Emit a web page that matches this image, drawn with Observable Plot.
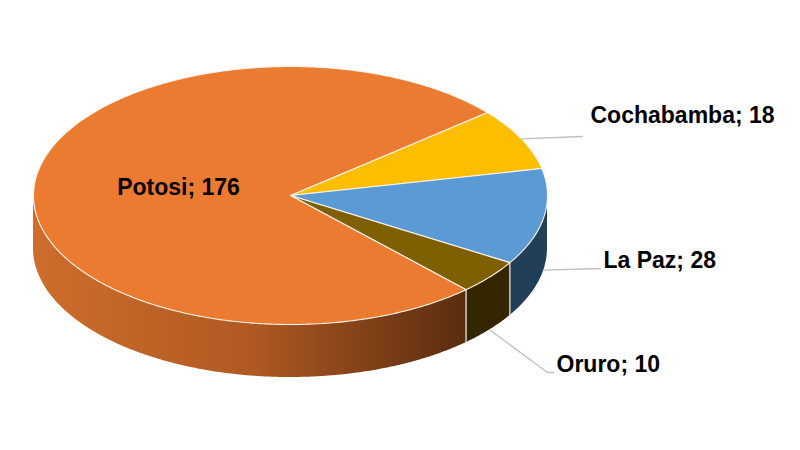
<!DOCTYPE html>
<html><head><meta charset="utf-8">
<script src="https://cdn.jsdelivr.net/npm/d3@7"></script>
<script src="https://cdn.jsdelivr.net/npm/@observablehq/plot@0.6"></script>
<style>html,body{margin:0;padding:0;background:#fff}svg{display:block}</style>
</head><body><div id="chart"></div>
<script>
const names = ["Cochabamba", "La Paz", "Oruro", "Potosi"];
const values = [18, 28, 10, 176];
const topColors = ["#FDBE00", "#5B9BD5", "#7F6000", "#EB7B31"];
const wallColors = ["#4C3A00", "#223F58", "#332600", "url(#potosiWall)"];
const wallRamp = ["#CE6D2C", "#B05A22", "#5A2C10"];

// Projection of the tilted disc
const cx = 290, cy = 195, rx = 257, ry = 129, depth = 53;
const start = 50 * Math.PI / 180;
const px = a => cx + rx * Math.sin(a);
const py = a => cy - ry * Math.cos(a);

const arcs = d3.pie().sort(null).startAngle(start).endAngle(start + 2 * Math.PI)(values);
const slices = arcs.map((d, i) => ({
  name: names[i], value: values[i], a0: d.startAngle, a1: d.endAngle, mid: (d.startAngle + d.endAngle) / 2,
  top: topColors[i], wall: wallColors[i]
}));

// Top faces
const topPts = [];
for (const s of slices) {
  const n = Math.ceil((s.a1 - s.a0) / 0.01);
  topPts.push({id: s.name, x: cx, y: cy, fill: s.top});
  for (let k = 0; k <= n; k++) {
    const a = s.a0 + (s.a1 - s.a0) * k / n;
    topPts.push({id: s.name, x: px(a), y: py(a), fill: s.top});
  }
  topPts.push({id: s.name, x: cx, y: cy, fill: s.top});
}

// Side walls: only the front half of the rim shows
const wallPts = [];
const edges = [];
for (const s of slices) {
  const lo = Math.max(s.a0, Math.PI / 2);
  const hi = Math.min(s.a1, 3 * Math.PI / 2);
  if (hi <= lo) continue;
  const n = Math.ceil((hi - lo) / 0.006);
  for (let k = 0; k <= n; k++) {
    const a = lo + (hi - lo) * k / n;
    wallPts.push({id: s.name, x: px(a), y1: py(a), y2: py(a) + depth});
  }
  if (s.a0 > Math.PI / 2 && s.a0 < 3 * Math.PI / 2)
    edges.push({id: s.name, x: px(s.a0), y: py(s.a0)}, {id: s.name, x: px(s.a0), y: py(s.a0) + depth});
}

// Horizontal shading of the large wall, defined with the chart
const wallGradient = () => {
  const defs = d3.create("svg:defs");
  const g = defs.append("linearGradient").attr("id", "potosiWall")
    .attr("gradientUnits", "userSpaceOnUse")
    .attr("x1", px(3 * Math.PI / 2)).attr("x2", px(slices[3].a0)).attr("y1", 0).attr("y2", 0);
  wallRamp.forEach((c, i) => g.append("stop").attr("offset", i / (wallRamp.length - 1)).attr("stop-color", c));
  return defs.node();
};

// Leader lines leave the rim at each slice's middle angle
const bend = {
  "Cochabamba": {dy: 0, ends: [[582, 136]], label: [590, 115]},
  "La Paz": {dy: depth, ends: [[600, 268]], label: [603, 260]},
  "Oruro": {dy: depth, ends: [[547, 372], [553, 372]], label: [556, 364]}
};
const leaders = [];
const labels = [];
for (const s of slices) {
  const b = bend[s.name];
  if (!b) { labels.push({x: 178, y: 187, text: `${s.name}; ${s.value}`, anchor: "middle"}); continue; }
  leaders.push({id: s.name, x: px(s.mid), y: py(s.mid) + b.dy});
  for (const e of b.ends) leaders.push({id: s.name, x: e[0], y: e[1]});
  labels.push({x: b.label[0], y: b.label[1], text: `${s.name}; ${s.value}`, anchor: "start"});
}

const labelStyle = {x: "x", y: "y", text: "text", fill: "#000", fontFamily: "Liberation Sans", fontWeight: 700, fontSize: 23};

const chart = Plot.plot({
  width: 800, height: 450, margin: 0,
  x: {domain: [0, 800], range: [0, 800], axis: null},
  y: {domain: [0, 450], range: [0, 450], axis: null},
  style: {background: "#fff"},
  marks: [
    wallGradient,
    ...slices.filter(s => wallPts.some(p => p.id === s.name)).map(s =>
      Plot.areaY(wallPts.filter(p => p.id === s.name), {x: "x", y1: "y1", y2: "y2", fill: s.wall})),
    Plot.line(edges, {x: "x", y: "y", z: "id", stroke: "#E8E4DC", strokeWidth: 1.2}),
    ...slices.map(s =>
      Plot.line(topPts.filter(p => p.id === s.name), {x: "x", y: "y", fill: s.top, stroke: "#FBF3EA", strokeWidth: 1.1, strokeLinejoin: "round"})),
    Plot.line(leaders, {x: "x", y: "y", z: "id", stroke: "#BFBFBF", strokeWidth: 1.3}),
    Plot.text(labels.filter(d => d.anchor === "start"), {...labelStyle, textAnchor: "start"}),
    Plot.text(labels.filter(d => d.anchor === "middle"), {...labelStyle, textAnchor: "middle"})
  ]
});
document.getElementById("chart").append(chart);
</script></body></html>
